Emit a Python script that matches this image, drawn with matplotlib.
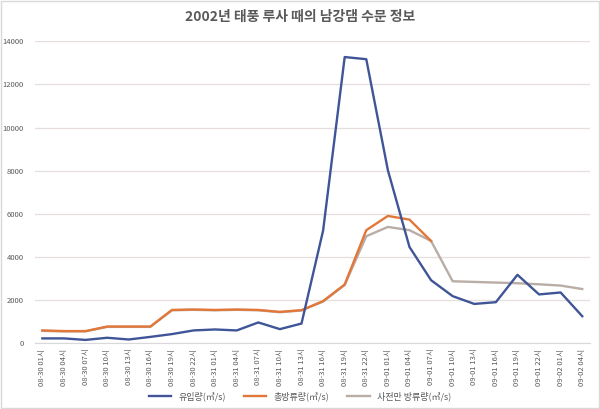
import matplotlib.pyplot as plt

plt.rcParams['font.family'] = ['Noto Sans CJK KR', 'DejaVu Sans']

times = ['08-30 01시', '08-30 04시', '08-30 07시', '08-30 10시', '08-30 13시', '08-30 16시',
         '08-30 19시', '08-30 22시', '08-31 01시', '08-31 04시', '08-31 07시', '08-31 10시',
         '08-31 13시', '08-31 16시', '08-31 19시', '08-31 22시', '09-01 01시', '09-01 04시',
         '09-01 07시', '09-01 10시', '09-01 13시', '09-01 16시', '09-01 19시', '09-01 22시',
         '09-02 01시', '09-02 04시']

nan = float('nan')
inflow = [220, 220, 150, 250, 170, 290, 420, 590, 635, 590, 960, 650, 910, 5220,
          13270, 13170, 8020, 4460, 2920, 2180, 1820, 1900, 3170, 2260, 2350, 1250]
total_out = [590, 560, 560, 770, 770, 770, 1540, 1560, 1540, 1560, 1540, 1450, 1530, 1950,
             2720, 5240, 5900, 5730, 4740, nan, nan, nan, nan, nan, nan, nan]
pre_out = [570, 545, 545, 755, 755, 755, 1525, 1545, 1525, 1545, 1525, 1435, 1515, 1930,
           2700, 4960, 5390, 5240, 4740, 2870, 2840, 2810, 2780, 2730, 2670, 2510]

names = ['유입량(㎥/s)', '총방류량(㎥/s)', '사전만 방류량(㎥/s)']
colors = ['#3F5597', '#E2773A', '#B9ADA6']

fig = plt.figure(figsize=(6, 4.09), dpi=100)
ax = fig.add_axes([0.058, 0.161, 0.925, 0.738])

x = range(len(times))
ax.plot(x, inflow, color=colors[0], lw=1.7, label=names[0], zorder=4)
ax.plot(x, total_out, color=colors[1], lw=1.7, label=names[1], zorder=3)
ax.plot(x, pre_out, color=colors[2], lw=1.7, label=names[2], zorder=2)

ax.set_ylim(0, 14000)
ax.set_yticks(range(0, 14001, 2000))
ax.set_xlim(-0.35, len(times) - 0.65)
ax.set_xticks(list(x))
ax.set_xticklabels(times, rotation=90, fontsize=5.5, color='#595959')
ax.tick_params(axis='y', labelsize=5.5, labelcolor='#595959', length=0, pad=8)
ax.tick_params(axis='x', length=0, pad=4)
ax.grid(axis='y', color='#E6DEDB', lw=0.9)
ax.set_axisbelow(True)
for s in ['top', 'right', 'left']:
    ax.spines[s].set_visible(False)
ax.spines['bottom'].set_color('#D9D9D9')

fig.suptitle('2002년 태풍 루사 때의 남강댐 수문 정보', x=0.5, y=0.975, fontsize=10,
             fontweight='bold', color='#595959')
fig.legend(loc='lower center', bbox_to_anchor=(0.5, 0.0), ncol=3, frameon=False,
           fontsize=6.5, handlelength=2.5, columnspacing=2.0, labelcolor='#595959')

fig.patches.append(plt.Rectangle((0.002, 0.002), 0.996, 0.996, transform=fig.transFigure,
                                 fill=False, edgecolor='#D9D9D9', lw=1))

fig.savefig('out.png', dpi=100)
